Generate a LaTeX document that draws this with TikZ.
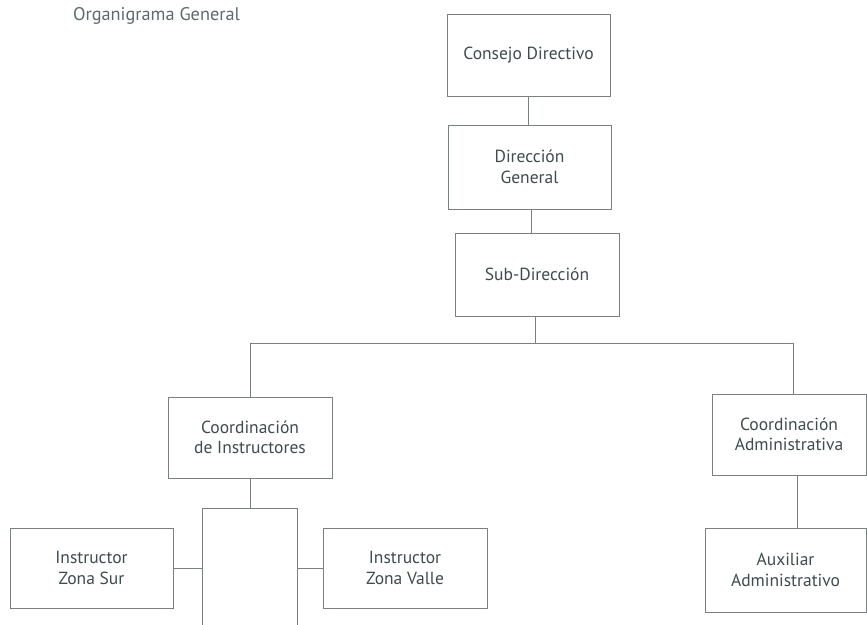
\documentclass[tikz,border=0pt]{standalone}
\usepackage{fontspec}
\setmainfont{PT Sans}
\begin{document}
\begin{tikzpicture}[x=1pt,y=-1pt,
  txt/.style={text=titlec},
  box/.style={draw=linec, line width=1pt, fill=white, inner sep=0pt, align=center,
    font=\fontsize{17.5}{20.5}\selectfont, text=textc},
  conn/.style={draw=linec, line width=1pt}]
\definecolor{textc}{HTML}{3F4B4D}
\definecolor{titlec}{HTML}{5E6A6C}
\definecolor{linec}{HTML}{7A7F80}
\useasboundingbox (0,0) rectangle (867,624);
\fill[white] (0,0) rectangle (867,624);
\node[txt, font=\fontsize{18.3}{21}\selectfont] (title) at (156.5,16) {Organigrama General};
\node[box, minimum width=163pt, minimum height=82pt] (cd) at (528.5,55) {Consejo Directivo};
\node[box, minimum width=163pt, minimum height=84pt] (dg) at (529.5,167) {Dirección\\General};
\node[box, minimum width=164pt, minimum height=83pt] (sd) at (537,274.5) {Sub-Dirección};
\node[box, minimum width=164pt, minimum height=81pt] (ci) at (250,437.5) {Coordinación\\de Instructores};
\node[box, minimum width=154pt, minimum height=81pt] (ca) at (789,434.5) {Coordinación\\Administrativa};
\node[box, minimum width=163pt, minimum height=80pt] (zs) at (91.5,568) {Instructor\\Zona Sur};
\node[box, minimum width=164pt, minimum height=80pt] (zv) at (405,568) {Instructor\\Zona Valle};
\node[box, minimum width=161pt, minimum height=84pt] (aux) at (785.5,570) {Auxiliar\\Administrativo};
\coordinate (busL) at (250,343);
\coordinate (busR) at (793,343);
\coordinate (busM) at (535,343);
\coordinate (fbl) at (202,626);
\coordinate (ftl) at (202,508);
\coordinate (ftr) at (297,508);
\coordinate (fbr) at (297,626);
\draw[conn] (cd.south) -- (cd.south |- dg.north);
\draw[conn] (dg.south) ++(2,0) -- ++(0,24);
\draw[conn] (busM |- sd.south) -- (busM);
\draw[conn] (busL) -- (busR);
\draw[conn] (busL) -- (ci.north);
\draw[conn] (busR) -- (busR |- ca.north);
\draw[conn] (ci.south) -- (ci.south |- ftl);
\draw[conn] (fbl) -- (ftl) -- (ftr) -- (fbr);
\draw[conn] (zs.east) -- (zs.east -| ftl);
\draw[conn] (ftr |- zv.west) -- (zv.west);
\draw[conn] (797,0 |- ca.south) -- (797,0 |- aux.north);
\end{tikzpicture}
\end{document}
